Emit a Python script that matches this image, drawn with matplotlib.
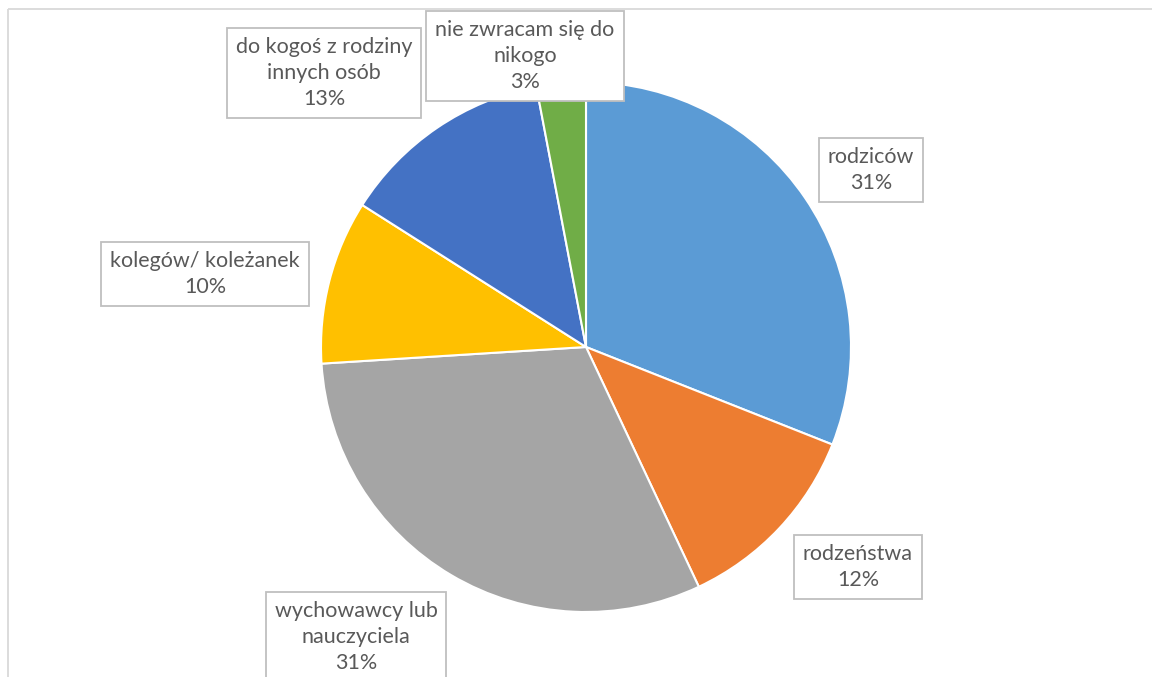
import matplotlib.pyplot as plt
from matplotlib.patches import Rectangle

plt.rcParams["font.family"] = ["Lato", "DejaVu Sans"]

# data
categories = [
    "rodziców",
    "rodzeństwa",
    "wychowawcy lub\nnauczyciela",
    "kolegów/ koleżanek",
    "do kogoś z rodziny\ninnych osób",
    "nie zwracam się do\nnikogo",
]
shares = [31, 12, 31, 10, 13, 3]

# styles / layout (pixel coords, y down)
COLORS = ["#5B9BD5", "#ED7D31", "#A5A5A5", "#FFC000", "#4472C4", "#70AD47"]
LABEL_POS = [(871, 170), (858, 567), (356, 637), (205, 274), (324, 73), (525, 56)]
W, H = 1152, 677
CENTER = (586, 347)
RADIUS = 265


def main():
    fig = plt.figure(figsize=(W / 100, H / 100), dpi=100)
    ax = fig.add_axes([0, 0, 1, 1])

    ax.pie(
        shares,
        colors=COLORS,
        startangle=-90,
        counterclock=True,
        center=CENTER,
        radius=RADIUS,
        wedgeprops=dict(edgecolor="white", linewidth=1.5),
    )
    ax.set_xlim(0, W)
    ax.set_ylim(H, 0)
    ax.set_aspect("equal")
    ax.axis("off")

    # chart area border
    ax.add_patch(Rectangle((7.5, 8.5), W, H, fill=False, edgecolor="#D9D9D9", lw=1.3, clip_on=False))

    for cat, val, (x, y) in zip(categories, shares, LABEL_POS):
        ax.text(
            x, y, "{}\n{}%".format(cat, val),
            ha="center", va="center", multialignment="center",
            fontsize=15.5, color="#595959", linespacing=1.38,
            bbox=dict(boxstyle="square,pad=0.42", facecolor="white", edgecolor="#BFBFBF", lw=1.3),
        )

    fig.savefig("out.png", dpi=100)
    plt.close(fig)


if __name__ == "__main__":
    main()
